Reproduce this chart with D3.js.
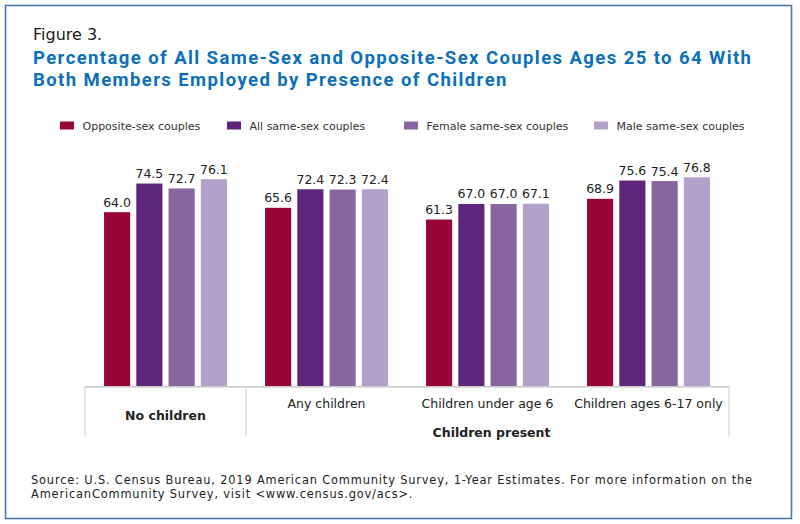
<!DOCTYPE html>
<html>
<head>
<meta charset="utf-8">
<script src="https://cdn.jsdelivr.net/npm/d3@7"></script>
<style>
  body { margin: 0; background: #fff; }
  svg { display: block; }
</style>
</head>
<body>
<svg id="chart" width="800" height="524"></svg>
<script>
(function() {
  'use strict';

  // chart values
  var categories = ['No children', 'Any children', 'Children under age 6', 'Children ages 6-17 only'];
  var series = ['Opposite-sex couples', 'All same-sex couples', 'Female same-sex couples', 'Male same-sex couples'];
  var oppositeSex = [64.0, 65.6, 61.3, 68.9];
  var allSameSex = [74.5, 72.4, 67.0, 75.6];
  var femaleSameSex = [72.7, 72.3, 67.0, 75.4];
  var maleSameSex = [76.1, 72.4, 67.1, 76.8];
  var seriesValues = [oppositeSex, allSameSex, femaleSameSex, maleSameSex];
  var colors = ['#990538', '#5e277c', '#8766a0', '#b3a1c9'];

  var svg = d3.select('#chart');
  var labelFont = '"DejaVu Sans", Verdana, sans-serif';

  // spreads a text's letters so it spans the given width
  function fitWidth(sel, width) {
    var len = sel.node().getComputedTextLength();
    var n = sel.text().length;
    sel.attr('letter-spacing', ((width - len) / (n - 1)).toFixed(3));
    return sel;
  }

  // frame
  svg.append('rect')
    .attr('x', 5.5).attr('y', 5.5)
    .attr('width', 786).attr('height', 513)
    .attr('fill', 'none')
    .attr('stroke', '#4b77a8')
    .attr('stroke-width', 1.6);

  svg.append('text')
    .attr('x', 33).attr('y', 40)
    .attr('font-family', labelFont)
    .attr('font-size', 16)
    .attr('fill', '#1a1a1a')
    .text('Figure 3.');

  var titleLines = [
    'Percentage of All Same-Sex and Opposite-Sex Couples Ages 25 to 64 With',
    'Both Members Employed by Presence of Children'
  ];
  var title = svg.append('g')
    .attr('font-family', 'Roboto, "Open Sans", sans-serif')
    .attr('font-weight', 700)
    .attr('font-size', 18.5)
    .attr('fill', '#0b6fba');
  var t1 = title.append('text').attr('x', 33).attr('y', 63.5).text(titleLines[0]);
  fitWidth(t1, 718);
  title.append('text').attr('x', 33).attr('y', 85.5)
    .attr('letter-spacing', t1.attr('letter-spacing'))
    .text(titleLines[1]);

  // legend
  var legendX = [60, 227, 404, 594];
  var legend = svg.append('g').selectAll('.legend-item')
    .data(series)
    .enter().append('g')
    .attr('class', 'legend-item')
    .attr('transform', function(d, i) { return 'translate(' + legendX[i] + ',0)'; });
  legend.append('rect')
    .attr('y', 121.5)
    .attr('width', 14).attr('height', 8)
    .attr('fill', function(d, i) { return colors[i]; });
  legend.append('text')
    .attr('x', 22.5).attr('y', 129.5)
    .attr('font-family', labelFont)
    .attr('font-size', 11)
    .attr('fill', '#333')
    .text(function(d) { return d; });

  // scales
  var x0 = d3.scaleBand().domain(categories).range([85, 729]);
  var x1 = d3.scaleBand().domain(series).range([0, x0.bandwidth()])
    .paddingInner(0.19).paddingOuter(0.59);
  var y = d3.scaleLinear().domain([0, 100]).range([386.7, 114]);

  var rows = categories.map(function(c, ci) {
    return series.map(function(s, si) {
      return { category: c, series: s, index: si, value: seriesValues[si][ci] };
    });
  });

  var groups = svg.append('g').selectAll('.group')
    .data(rows)
    .enter().append('g')
    .attr('class', 'group')
    .attr('transform', function(d) { return 'translate(' + x0(d[0].category) + ',0)'; });

  groups.selectAll('rect')
    .data(function(d) { return d; })
    .enter().append('rect')
    .attr('x', function(d) { return x1(d.series); })
    .attr('y', function(d) { return y(d.value); })
    .attr('width', x1.bandwidth())
    .attr('height', function(d) { return y(0) - y(d.value); })
    .attr('fill', function(d) { return colors[d.index]; });

  groups.selectAll('.value')
    .data(function(d) { return d; })
    .enter().append('text')
    .attr('class', 'value')
    .attr('x', function(d) { return x1(d.series) + x1.bandwidth() / 2; })
    .attr('y', function(d) { return y(d.value) - 5.5; })
    .attr('text-anchor', 'middle')
    .attr('font-family', labelFont)
    .attr('font-size', 12.5)
    .attr('fill', '#222')
    .text(function(d) { return d.value.toFixed(1); });

  // category axis with its box lines
  var axis = svg.append('g')
    .attr('stroke', '#c8c8c8')
    .attr('stroke-width', 1.5);
  axis.append('line')
    .attr('x1', x0.range()[0]).attr('x2', x0.range()[1])
    .attr('y1', y(0)).attr('y2', y(0));
  [x0(categories[0]), x0(categories[1]), x0.range()[1]].forEach(function(xv) {
    axis.append('line')
      .attr('x1', xv).attr('x2', xv)
      .attr('y1', y(0)).attr('y2', 436.5)
      .attr('stroke-width', 1);
  });

  svg.append('g').selectAll('.cat')
    .data(categories)
    .enter().append('text')
    .attr('class', 'cat')
    .attr('x', function(d) { return x0(d) + x0.bandwidth() / 2; })
    .attr('y', function(d, i) { return i === 0 ? 420 : 407.5; })
    .attr('text-anchor', 'middle')
    .attr('font-family', labelFont)
    .attr('font-size', 12.5)
    .attr('font-weight', function(d, i) { return i === 0 ? 700 : 400; })
    .attr('fill', '#222')
    .text(function(d) { return d; });

  svg.append('text')
    .attr('x', x0(categories[2]) + x0.bandwidth() / 2 + 4)
    .attr('y', 437)
    .attr('text-anchor', 'middle')
    .attr('font-family', labelFont)
    .attr('font-size', 12.5)
    .attr('font-weight', 700)
    .attr('fill', '#222')
    .text('Children present');

  // source note
  var sourceLines = [
    'Source: U.S. Census Bureau, 2019 American Community Survey, 1-Year Estimates. For more information on the',
    'AmericanCommunity Survey, visit <www.census.gov/acs>.'
  ];
  var source = svg.append('g')
    .attr('font-family', labelFont)
    .attr('font-size', 11.4)
    .attr('fill', '#222');
  var s1 = source.append('text').attr('x', 31).attr('y', 484).text(sourceLines[0]);
  fitWidth(s1, 721);
  source.append('text').attr('x', 31).attr('y', 498)
    .attr('letter-spacing', s1.attr('letter-spacing'))
    .text(sourceLines[1]);
})();
</script>
</body>
</html>
